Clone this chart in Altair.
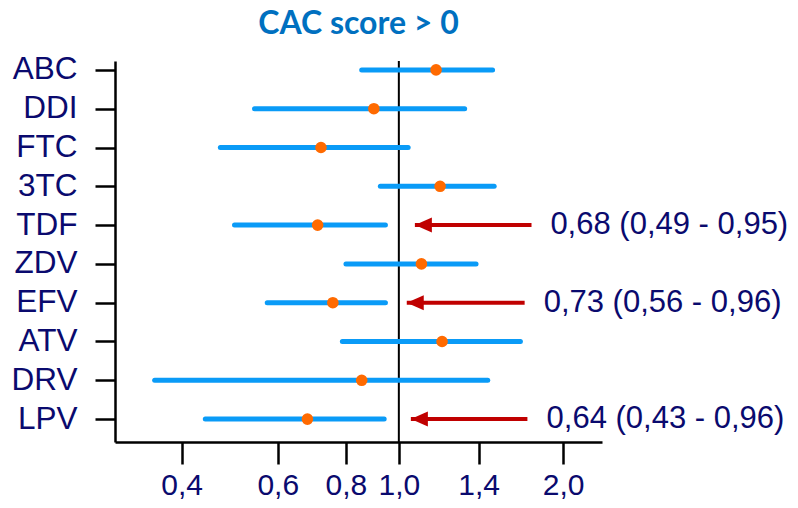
import altair as alt
import pandas as pd

drugs = ["ABC", "DDI", "FTC", "3TC", "TDF", "ZDV", "EFV", "ATV", "DRV", "LPV"]
est = [1.17, 0.90, 0.72, 1.19, 0.71, 1.10, 0.757, 1.20, 0.855, 0.68]
lo = [0.855, 0.544, 0.471, 0.925, 0.50, 0.80, 0.574, 0.788, 0.357, 0.442]
hi = [1.485, 1.32, 1.04, 1.495, 0.945, 1.385, 0.945, 1.67, 1.455, 0.94]

ann_drugs = ["TDF", "EFV", "LPV"]
ann_text = ["0,68 (0,49 - 0,95)", "0,73 (0,56 - 0,96)", "0,64 (0,43 - 0,96)"]
arrow_tip = [1.07, 1.034, 1.052]
arrow_tail = [1.75, 1.70, 1.72]
text_x = [1.895, 1.842, 1.865]

x_ticks = [0.4, 0.6, 0.8, 1.0, 1.4, 2.0]

df = pd.DataFrame({"drug": drugs, "est": est, "lo": lo, "hi": hi})
ann = pd.DataFrame({"drug": ann_drugs, "label": ann_text, "tip": arrow_tip,
                    "tail": arrow_tail, "tx": text_x})
ref = pd.DataFrame({"x": [1.0]})

NAVY = "#0A0A6E"
xscale = alt.Scale(type="log", domain=[0.302, 2.356], nice=False, zero=False)
yscale = alt.Scale(type="point", domain=drugs, padding=0.41, align=0.28)

xaxis = alt.Axis(values=x_ticks, labelExpr="replace(format(datum.value, '.1f'), '.', ',')",
                 title=None, grid=False, domainColor="black", domainWidth=2.5,
                 tickColor="black", tickWidth=2.5, tickSize=22,
                 labelFont="Liberation Sans", labelFontSize=30, labelColor=NAVY,
                 labelPadding=6, labelFlush=False, labelOverlap=False)
yaxis = alt.Axis(title=None, grid=False, domainColor="black", domainWidth=2.5,
                 tickColor="black", tickWidth=2.5, tickSize=20,
                 labelFont="Liberation Sans", labelFontSize=31.5, labelColor=NAVY,
                 labelPadding=18)

base = alt.Chart(df)

ci = base.mark_rule(color="#0A9BF7", strokeWidth=5, strokeCap="round").encode(
    x=alt.X("lo:Q", scale=xscale, axis=xaxis),
    x2="hi:Q",
    y=alt.Y("drug:N", scale=yscale, axis=yaxis, sort=drugs),
)

refline = alt.Chart(ref).mark_rule(color="black", strokeWidth=2).encode(
    x=alt.X("x:Q", scale=xscale)
)

pts = base.mark_point(filled=True, color="#FF6A00", opacity=1, size=135, shape="circle").encode(
    x=alt.X("est:Q", scale=xscale),
    y=alt.Y("drug:N", scale=yscale, sort=drugs),
)

arrow_line = alt.Chart(ann).mark_rule(color="#C00000", strokeWidth=4).encode(
    x=alt.X("tip:Q", scale=xscale),
    x2="tail:Q",
    y=alt.Y("drug:N", scale=yscale, sort=drugs),
)

arrow_head = alt.Chart(ann).mark_point(filled=True, color="#C00000", opacity=1, size=289,
                                        shape="M0,0L2,-0.88L2,0.88Z").encode(
    x=alt.X("tip:Q", scale=xscale),
    y=alt.Y("drug:N", scale=yscale, sort=drugs),
)

texts = alt.Chart(ann).mark_text(align="left", baseline="middle", font="Liberation Sans",
                                 fontSize=31, color=NAVY).encode(
    x=alt.X("tx:Q", scale=xscale),
    y=alt.Y("drug:N", scale=yscale, sort=drugs),
    text="label:N",
)

chart = alt.layer(refline, ci, pts, arrow_line, arrow_head, texts).properties(
    width=487, height=381,
    autosize=alt.AutoSizeParams(type="none"),
    padding={"left": 107, "top": 53, "right": 188, "bottom": 58},
    title=alt.TitleParams("CAC score > 0", font="Lato", fontSize=32, fontWeight="bold",
                          color="#0070C0", anchor="middle", offset=13),
).configure_view(stroke=None)

chart.save("out.html", embed_options={"renderer": "svg", "actions": False})
